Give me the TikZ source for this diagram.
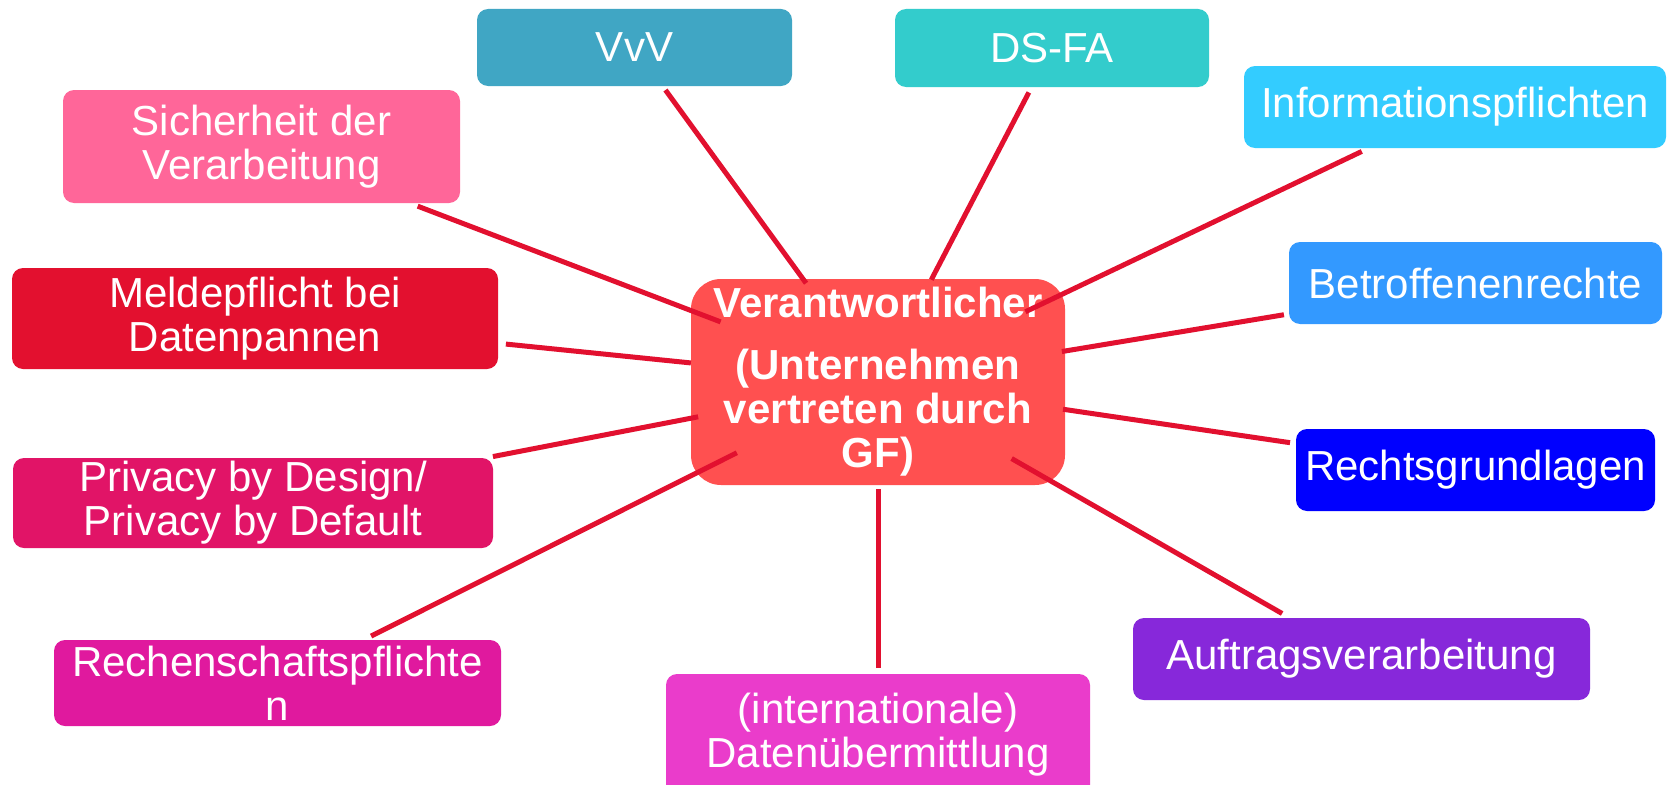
\documentclass[tikz,border=0pt]{standalone}
\usepackage{fontspec}
\setmainfont{Liberation Sans}
\definecolor{cvvv}{HTML}{40A6C4}
\definecolor{cdsfa}{HTML}{33CCCC}
\definecolor{cinfo}{HTML}{33CCFF}
\definecolor{csich}{HTML}{FF6699}
\definecolor{cbetr}{HTML}{3399FF}
\definecolor{cmeld}{HTML}{E3102F}
\definecolor{cctr}{HTML}{FF5050}
\definecolor{crgl}{HTML}{0000FF}
\definecolor{cpriv}{HTML}{E11467}
\definecolor{crech}{HTML}{E0199E}
\definecolor{cintl}{HTML}{EA3CCB}
\definecolor{cauft}{HTML}{8728DA}
\definecolor{clink}{HTML}{E2102F}
\begin{document}
\begin{tikzpicture}[x=1pt,y=-1pt,
  box/.style={rounded corners=11pt, inner sep=0pt, text=white, align=center,
    font=\fontsize{42}{44}\selectfont},
  link/.style={draw=clink, line width=5pt}]
\clip (0,0) rectangle (1669,784);
\fill[white] (0,0) rectangle (1669,784);
\node[box, fill=cvvv, minimum width=315pt, minimum height=77pt] (vvv) at (634.5,47.5) {VvV};
\node[box, fill=cdsfa, minimum width=314pt, minimum height=78pt] (dsfa) at (1052,48) {DS-FA};
\node[box, fill=cinfo, minimum width=422pt, minimum height=82pt] (info) at (1455,107) {Informationspflichten};
\node[box, fill=csich, minimum width=397pt, minimum height=113pt] (sich) at (261.5,146.5) {Sicherheit der\\Verarbeitung};
\node[box, fill=cbetr, minimum width=373pt, minimum height=82pt] (betr) at (1475.5,283) {Betroffenenrechte};
\node[box, fill=cmeld, minimum width=486pt, minimum height=101pt] (meld) at (255,318.5) {Meldepflicht bei\\Datenpannen};
\node[box, fill=crgl, minimum width=359pt, minimum height=82pt] (rgl) at (1475.5,470) {Rechtsgrundlagen};
\node[box, fill=cpriv, minimum width=480pt, minimum height=90pt] (priv) at (253,503) {Privacy by Design/\\Privacy by Default};
\node[box, fill=crech, minimum width=447pt, minimum height=86pt] (rech) at (277.5,683) {Rechenschaftspflichte\\n};
\node[box, fill=cauft, minimum width=457pt, minimum height=82pt] (auft) at (1361.5,659) {Auftragsverarbeitung};
\node[box, fill=cintl, minimum width=424pt, minimum height=122pt] (intl) at (878,735) {(internationale)\\Datenübermittlung};
\node[box, rounded corners=30pt, fill=cctr, minimum width=374pt, minimum height=206pt,
  font=\fontsize{42}{44}\selectfont\bfseries] (ctr) at (878,382)
  {Verantwortlicher\\[18pt](Unternehmen\\vertreten durch\\GF)};
\draw[link, shorten <=52.6pt, shorten >=122.2pt] (vvv.center) -- (ctr.center);
\draw[link, shorten <=50.1pt, shorten >=115.4pt] (dsfa.center) -- (ctr.center);
\draw[link, shorten <=103.3pt, shorten >=163.3pt] (info.center) -- (ctr.center);
\draw[link, shorten <=167.2pt, shorten >=168.5pt] (sich.center) -- (ctr.center);
\draw[link, shorten <=252.2pt, shorten >=188.1pt] (meld.center) -- (ctr.center);
\draw[link, shorten <=194.2pt, shorten >=186.4pt] (betr.center) -- (ctr.center);
\draw[link, shorten <=244.4pt, shorten >=183.2pt] (priv.center) -- (ctr.center);
\draw[link, shorten <=104.7pt, shorten >=157.9pt] (rech.center) -- (ctr.center);
\draw[link, shorten <=67pt, shorten >=107pt] (intl.center) -- (ctr.center);
\draw[link, shorten <=187.5pt, shorten >=187pt] (rgl.center) -- (ctr.center);
\draw[link, shorten <=91.5pt, shorten >=154pt] (auft.center) -- (ctr.center);
\end{tikzpicture}
\end{document}
